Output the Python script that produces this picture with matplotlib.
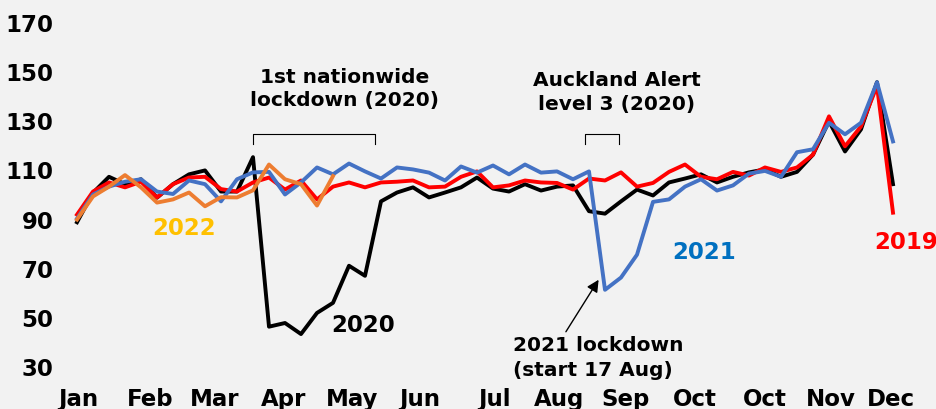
import matplotlib.pyplot as plt
import numpy as np

plt.rcParams["font.family"] = ["DejaVu Sans"]
plt.rcParams["font.weight"] = "bold"

# weekly index values, 52 weeks
y2019 = [91.6, 101, 104.7, 102.7, 105, 98.6, 104, 106.7, 107, 102, 101,
         104.7, 106.7, 101.8, 105.5, 97.8, 103, 104.7, 102.7, 104.7, 105, 105.5,
         102.7, 103, 107, 109.2, 102.7, 103.5, 105.5, 104.7, 104.5, 101.8,
         106.3, 105.5, 108.8, 103, 104.5, 109, 112, 107, 106, 109, 107.5,
         110.8, 109, 110.8, 116, 131.6, 119.4, 127.5, 144, 92.4]
y2020 = [88.5, 100.5, 107, 104, 106, 98.5, 104, 108, 109.6, 101, 101,
         115, 46, 47.5, 43, 51.6, 55.7, 70.8, 66.7, 97, 100.6, 102.7,
         98.6, 100.6, 102.7, 106.7, 102.2, 101, 104, 101.4, 103, 103.5,
         93, 92, 97, 101.8, 99.4, 104.7, 106.3, 108, 104.7, 107, 108.8,
         110, 107, 109, 116, 129.6, 117.3, 126.3, 145.5, 104]
y2021 = [90, 99.8, 103, 105, 106, 101, 100, 105.5, 104, 97, 106,
         108.8, 109, 99.8, 104.7, 110.8, 108, 112.4, 109.2, 106.3, 110.8, 110,
         108.7, 105.5, 111.2, 108.7, 111.6, 108, 112, 108.7, 109.2, 106,
         109.2, 61, 66, 75.3, 96.8, 97.8, 103, 106, 101.4, 103.5, 108.3,
         109.4, 107, 117, 118.2, 129, 124.3, 129, 145.5, 121.4]
y2022 = [89.6, 99, 103, 107.7, 102.7, 96.5, 97.8, 100.6, 95, 98.7, 98.6,
         101.5, 112, 106, 104, 95.3, 107.3]

month_labels = ["Jan", "Feb", "Mar", "Apr", "May", "Jun", "Jul", "Aug",
                "Sep", "Oct", "Oct", "Nov", "Dec"]
month_pos = [0.06, 4.6, 8.6, 12.9, 17.2, 21.4, 26.1, 30.1, 34.3, 38.6,
             43.0, 47.1, 50.9]

bg = "#f2f2f2"
fig = plt.figure(figsize=(9.37, 4.10), dpi=100, facecolor=bg)
ax = fig.add_axes([77 / 937, 1 - 367 / 410, (893 - 77) / 937, (367 - 23) / 410])
ax.set_facecolor(bg)

lw = 2.8
ax.plot(np.arange(len(y2020)), y2020, color="black", lw=lw, clip_on=False)
ax.plot(np.arange(len(y2019)), y2019, color="#ff0000", lw=lw, clip_on=False)
ax.plot(np.arange(len(y2021)), y2021, color="#4472c4", lw=lw, clip_on=False)
ax.plot(np.arange(len(y2022)), y2022, color="#ed7d31", lw=lw, clip_on=False)

ax.set_xlim(0, 51)
ax.set_ylim(30, 170)
ax.set_yticks(range(30, 171, 20))
ax.set_xticks(month_pos)
ax.set_xticklabels(month_labels)
ax.tick_params(length=0, labelsize=16.5, pad=15)
ax.tick_params(axis="y", pad=17)
for s in ax.spines.values():
    s.set_visible(False)

# series labels
ax.text(17.9, 46.7, "2020", color="black", fontsize=16.5, ha="center", va="center")
ax.text(39.2, 76.5, "2021", color="#0070c0", fontsize=16.5, ha="center", va="center")
ax.text(6.7, 86.3, "2022", color="#ffc000", fontsize=16.5, ha="center", va="center")
ax.text(51.8, 80.6, "2019", color="#ff0000", fontsize=16.5, ha="center", va="center",
        clip_on=False)

# lockdown brackets
ax.text(16.75, 143, "1st nationwide\nlockdown (2020)", fontsize=14.5,
        ha="center", va="center", linespacing=1.25)
ax.plot([11, 11, 18.6, 18.6], [120.2, 124.3, 124.3, 120.2], color="black", lw=0.8)
ax.text(33.75, 141.6, "Auckland Alert\nlevel 3 (2020)", fontsize=14.5,
        ha="center", va="center", linespacing=1.35)
ax.plot([31.75, 31.75, 33.9, 33.9], [120.2, 124.3, 124.3, 120.2], color="black", lw=0.8)

ax.annotate("2021 lockdown\n(start 17 Aug)", xy=(32.6, 65.1), xytext=(27.25, 33.7),
            fontsize=14.5, ha="left", va="center", linespacing=1.45,
            arrowprops=dict(arrowstyle="-|>", color="black", lw=1, mutation_scale=18,
                            shrinkA=0, shrinkB=0, relpos=(0.3, 1.0)),
            annotation_clip=False)

fig.savefig("out.png", dpi=100, facecolor=bg)
